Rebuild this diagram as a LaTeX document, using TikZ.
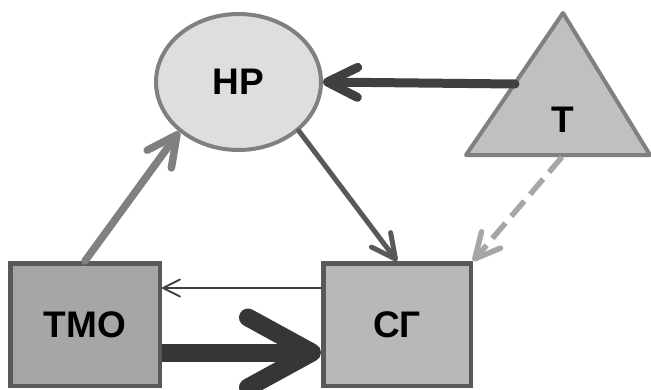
\documentclass[tikz,border=0pt]{standalone}
\usepackage{fontspec}
\setmainfont{Liberation Sans}
\usepackage{tikz}
\usetikzlibrary{shapes.geometric}
\usetikzlibrary{arrows.meta}
\usepackage{xcolor}

\definecolor{hrfill}{HTML}{DEDEDE}
\definecolor{tfill}{HTML}{C0C0C0}
\definecolor{tmofill}{HTML}{A6A6A6}
\definecolor{cgfill}{HTML}{B8B8B8}
\definecolor{edgegray}{HTML}{808080}
\definecolor{boxedge}{HTML}{595959}

\begin{document}
\begin{tikzpicture}[x=1pt,y=-1pt,
  lbl/.style={font=\fontsize{37}{40}\selectfont\bfseries},
  boxnode/.style={draw=boxedge,line width=4.5pt,rectangle,lbl,minimum width=149.5pt,minimum height=122.5pt},
  barb/.style={line cap=round,-{Straight Barb[round,length=#1,width=#1]}}]

\useasboundingbox (0,0) rectangle (651,389);

% Nodes: ellipse, triangle, two boxes
\node[ellipse,draw=edgegray,fill=hrfill,line width=4pt,minimum width=165pt,minimum height=136pt,lbl] (hr) at (238.5,82) {НР};

\draw[draw=edgegray,fill=tfill,line width=4pt,line join=round] (563,13) -- (650,155) -- (466,155) -- cycle;
\node[lbl] (t) at (563,120) {Т};
\coordinate (tleft) at (515,84);
\coordinate (tbase) at (562,157);

\node[boxnode,fill=tmofill] (tmo) at (85,324.5) {ТМО};
\node[boxnode,fill=cgfill,minimum width=147.5pt] (cg) at (397,324.5) {СГ};

% Arrows between them
\draw[barb=30pt,draw=black!75,line width=9pt] (tleft) -- (hr.east);
\draw[barb=24pt,draw=boxedge,line width=5pt] (hr.-39) -- (cg.north);
\draw[barb=30pt,draw=edgegray,line width=7.5pt] (tmo.north) -- (hr.-140);
\draw[barb=25pt,draw=tmofill,line width=5.5pt,dash pattern=on 20pt off 9pt,line cap=butt] (tbase) -- (cg.north east);

% Feedback and main flow
\draw[barb=17pt,draw=black!75,line width=2pt] ([yshift=36.5pt]cg.west) -- ([yshift=36.5pt]tmo.east);
\draw[-{Straight Barb[round,length=64pt,width=70pt]},draw=black!79,line width=18pt] ([yshift=-28pt]tmo.east) -- ([yshift=-28pt]cg.west);

\end{tikzpicture}
\end{document}
